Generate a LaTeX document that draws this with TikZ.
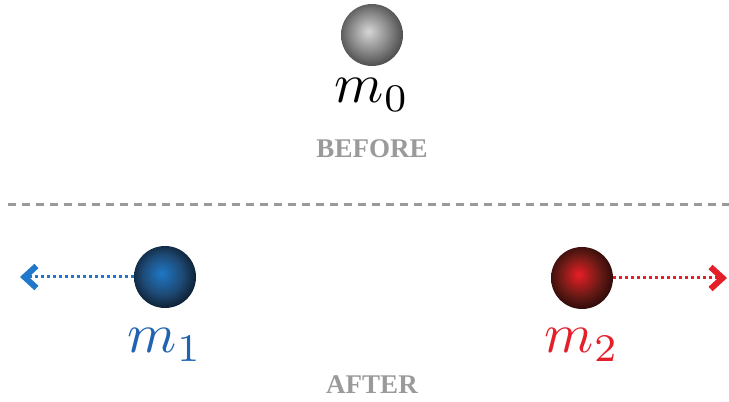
\documentclass[tikz,border=0pt]{standalone}
\usepackage{fontspec}
\newfontfamily\tagfont{Liberation Serif}
\usepackage{graphicx}
\usepackage{xcolor}
\usepackage{tikz}
\usetikzlibrary{arrows.meta,positioning}

\definecolor{grayin}{HTML}{D6D6D6}
\definecolor{graymid}{HTML}{868686}
\definecolor{grayout}{HTML}{363636}
\definecolor{bluein}{HTML}{1E78C6}
\definecolor{bluemid}{HTML}{1E4A76}
\definecolor{blueout}{HTML}{070F18}
\definecolor{redin}{HTML}{E81E26}
\definecolor{redmid}{HTML}{6E1B16}
\definecolor{redout}{HTML}{140504}
\definecolor{bluetxt}{HTML}{2063B0}
\definecolor{blueline}{HTML}{1F78C9}
\definecolor{redtxt}{HTML}{E3202A}
\definecolor{tagtxt}{HTML}{9A9A9A}

\pgfdeclareradialshading{grayball}{\pgfpoint{-3bp}{3bp}}{color(0bp)=(grayin); color(16bp)=(graymid); color(31bp)=(grayout); color(50bp)=(grayout)}
\pgfdeclareradialshading{blueball}{\pgfpoint{-3bp}{3bp}}{color(0bp)=(bluein); color(16bp)=(bluemid); color(31bp)=(blueout); color(50bp)=(blueout)}
\pgfdeclareradialshading{redball}{\pgfpoint{-3bp}{3bp}}{color(0bp)=(redin); color(16bp)=(redmid); color(31bp)=(redout); color(50bp)=(redout)}

\newcommand{\massname}[1]{\scalebox{5.6}{$#1$}}

\tikzset{
  ball/.style={circle,minimum size=62pt,inner sep=0pt},
  masslabel/.style={anchor=base,inner sep=0pt,font=\normalsize},
  tag/.style={text=tagtxt,inner sep=0pt,font=\tagfont\bfseries\fontsize{27}{30}\selectfont},
  motion/.style={line width=3pt,dash pattern=on 3pt off 3pt,
    -{Straight Barb[length=12pt,width=22pt,line width=6pt]}}
}

\begin{document}
\begin{tikzpicture}[x=1pt,y=1pt]
  \useasboundingbox (0,0) rectangle (729,402);
  % before
  \node[ball,shading=grayball] (m0) at (372,367) {};
  \node[masslabel] (m0lab) at (372,299) {\massname{m_0}};
  \node[tag] (before) at (372,253) {BEFORE};
  % separator
  \coordinate (sepL) at (8,197);
  \coordinate (sepR) at (729,197);
  \draw[tagtxt,line width=3pt,dash pattern=on 8pt off 6pt] (sepL) -- (sepR);
  % after
  \node[ball,shading=blueball] (m1) at (165,125) {};
  \node[ball,shading=redball] (m2) at (582,124) {};
  \coordinate (leftend) at (20,125);
  \coordinate (rightend) at (727,124);
  \draw[motion,blueline] (m1.west) -- (leftend);
  \draw[motion,redtxt] (m2.east) -- (rightend);
  \node[masslabel,text=bluetxt] (m1lab) at (165,49) {\massname{m_1}};
  \node[masslabel,text=redtxt] (m2lab) at (582,49) {\massname{m_2}};
  \node[tag] (after) at (372,17) {AFTER};
\end{tikzpicture}
\end{document}
